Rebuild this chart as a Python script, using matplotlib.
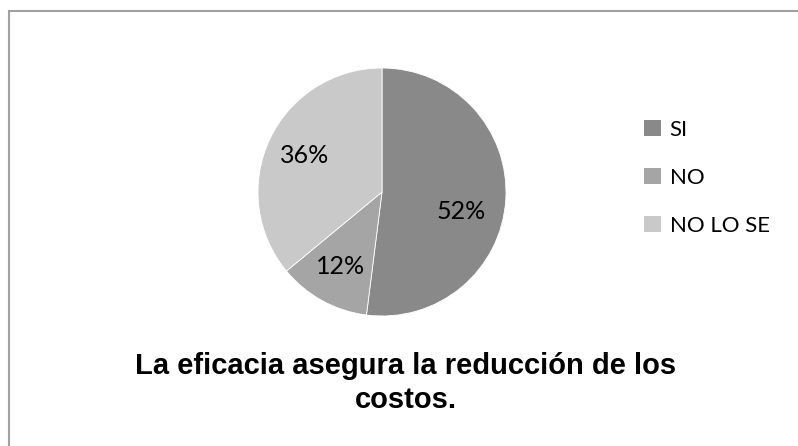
import matplotlib
matplotlib.use("Agg")
import matplotlib.pyplot as plt
from matplotlib.patches import Rectangle

categorias = ["SI", "NO", "NO LO SE"]
valores = [52, 12, 36]
colores = ["#898989", "#a5a5a5", "#c9c9c9"]
titulo = "La eficacia asegura la reducción de los\ncostos."

W, H = 798, 446
fig = plt.figure(figsize=(W / 100, H / 100), dpi=100)

# marco del grafico (solo se ven los bordes superior e izquierdo)
fig.patches.append(Rectangle((8.5 / W, -0.1), 1.2, 1 - 10.5 / H + 0.1,
                             transform=fig.transFigure, fill=False,
                             edgecolor="#a0a0a0", linewidth=1.5))

cx, cy, r = 382, 192, 124
ax = fig.add_axes([(cx - r) / W, 1 - (cy + r) / H, 2 * r / W, 2 * r / H])
wedges, textos, pcts = ax.pie(valores, colors=colores, startangle=90,
                              counterclock=False, autopct="%1.0f%%",
                              pctdistance=0.69,
                              wedgeprops=dict(linewidth=0.6, edgecolor="white"),
                              textprops=dict(fontsize=18, family="Lato"))
ax.set_xlim(-1, 1)
ax.set_ylim(-1, 1)
ax.set_aspect("auto")
pcts[0].set_position((0.64, -0.16))

leg = fig.legend(wedges, categorias, loc="upper left",
                 bbox_to_anchor=(624 / W, 1 - 100 / H), frameon=False,
                 prop=dict(family="Lato", size=16), handlelength=0.75,
                 handleheight=0.75, handletextpad=0.4, labelspacing=1.26)
for h in leg.legend_handles:
    h.set_linewidth(0)

fig.text(406 / W, 1 - 383 / H, titulo, ha="center", va="center",
         family="Liberation Sans", fontweight="bold", fontsize=21,
         linespacing=1.3)

fig.savefig("out.png", dpi=100)
